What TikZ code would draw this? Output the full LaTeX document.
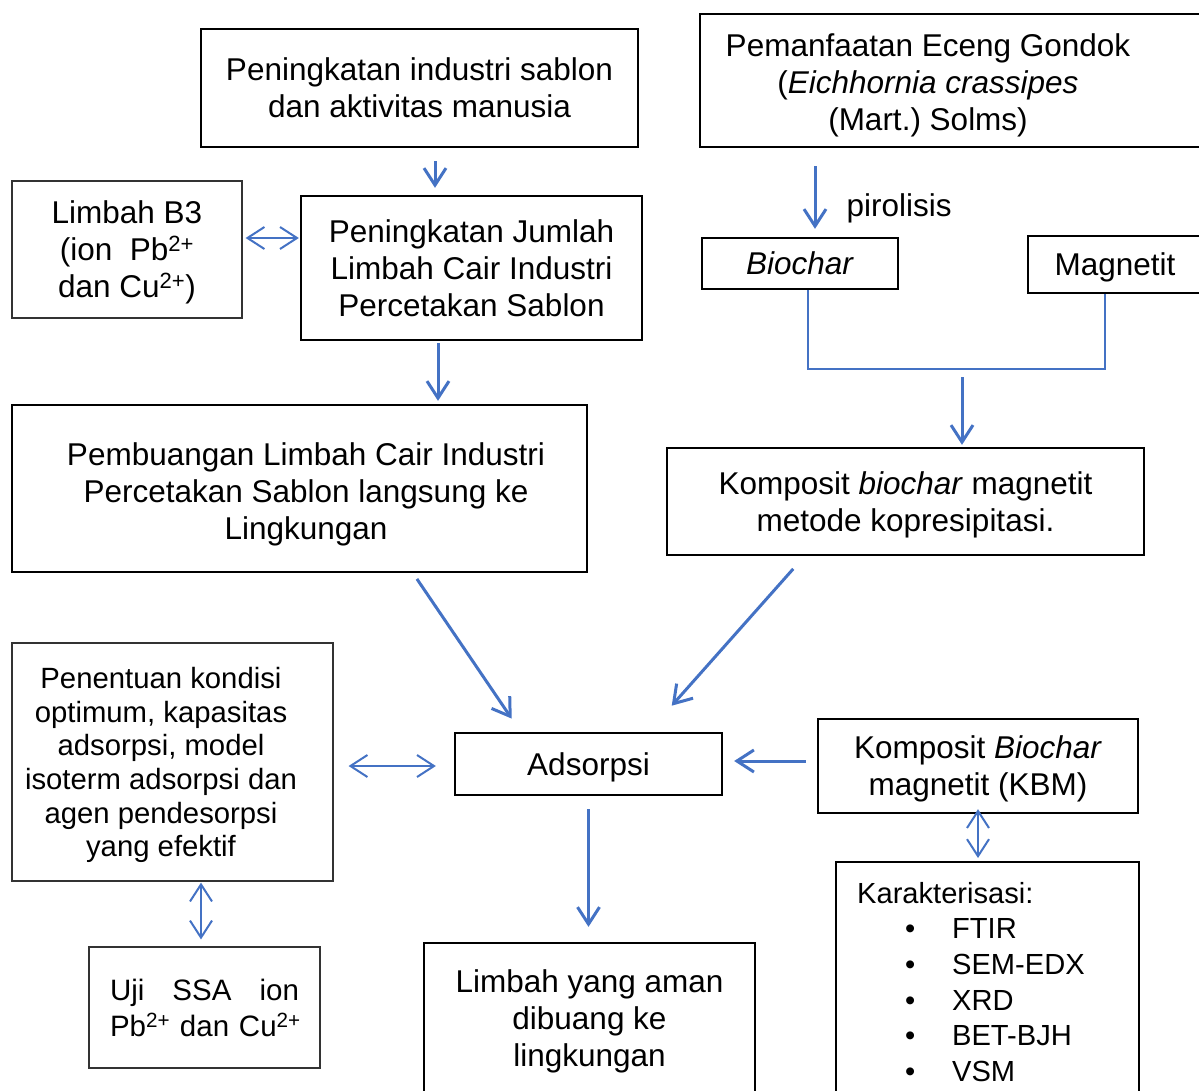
\documentclass[tikz,border=0pt]{standalone}
\usepackage{fontspec}
\setmainfont{Liberation Sans}
\usepackage{tikz}
\usetikzlibrary{arrows.meta,positioning}
\definecolor{flowblue}{RGB}{68,114,196}

\begin{document}
\begin{tikzpicture}[x=1pt,y=-1pt,
    font=\fontsize{31.5}{37}\selectfont,
    >={Straight Barb[length=17pt,width=22pt]},
    box/.style={draw,line width=2.3pt,align=center,inner sep=0pt,text depth=0pt},
    listbox/.style={draw,line width=2.3pt,align=left,inner sep=0pt},
    thinbox/.style={draw=black!80,line width=1.2pt,align=center,inner sep=0pt},
    boxtext/.style={align=center,inner sep=0pt,text depth=0pt},
    flow/.style={->,flowblue,line width=3pt},
    twoway/.style={<->,flowblue,line width=2pt},
    mergeline/.style={flowblue,line width=1.2pt}]
    \useasboundingbox (0,0) rectangle (1199,1090);
    \clip (0,0) rectangle (1199,1090);

    % left column
    \node[box,minimum width=437pt,minimum height=118pt] (A) at (419.5,88) {Peningkatan industri sablon\\dan aktivitas manusia};
    \node[thinbox,text depth=0pt,minimum width=230pt,minimum height=137pt] (C) at (127,249.5) {Limbah B3\\(ion~ Pb\textsuperscript{2+}\\dan Cu\textsuperscript{2+})};
    \node[box,minimum width=341pt,minimum height=144pt] (D) at (471.5,268) {Peningkatan Jumlah\\Limbah Cair Industri\\Percetakan Sablon};
    \node[box,minimum width=575pt,minimum height=167pt] (E) at (299.5,488.5) {};
    \node[boxtext] (Etext) at (306,491.5) {Pembuangan Limbah Cair Industri\\Percetakan Sablon langsung ke\\Lingkungan};

    % right column
    \node[box,minimum width=515pt,minimum height=133pt] (B) at (957.5,80.5) {};
    \node[boxtext] (Btext) at (928,82) {Pemanfaatan Eceng Gondok\\(\textit{Eichhornia crassipes}\\(Mart.)\ Solms)};
    \node[box,minimum width=196pt,minimum height=51pt] (bio) at (800,263.5) {\textit{Biochar}};
    \node[box,minimum width=174pt,minimum height=57pt] (mag) at (1115,264.5) {Magnetit};
    \node[anchor=west] (pir) at (843,208) {pirolisis};
    \coordinate (merge) at (962,369);
    \node[box,minimum width=477pt,minimum height=107pt] (F) at (905.5,501.5) {Komposit \textit{biochar} magnetit\\metode kopresipitasi.};

    % bottom part
    \node[thinbox,minimum width=321pt,minimum height=238pt] (G) at (172.5,762) {};
    \node[boxtext,font=\fontsize{29.3}{33.6}\selectfont] (Gtext) at (161,762) {Penentuan kondisi\\optimum, kapasitas\\adsorpsi, model\\isoterm adsorpsi dan\\agen pendesorpsi\\yang efektif};
    \node[box,minimum width=267pt,minimum height=62pt] (H) at (588.5,764) {Adsorpsi};
    \node[box,minimum width=320pt,minimum height=94pt] (I) at (978,766) {Komposit \textit{Biochar}\\magnetit (KBM)};
    \node[listbox,anchor=north west,text width=261pt,inner xsep=21pt,inner ysep=20pt,
          font=\fontsize{29.1}{35.6}\selectfont] (J) at (835,861)
        {Karakterisasi:\\
         \hspace*{48pt}\makebox[47pt][l]{\textbullet}FTIR\\
         \hspace*{48pt}\makebox[47pt][l]{\textbullet}SEM-EDX\\
         \hspace*{48pt}\makebox[47pt][l]{\textbullet}XRD\\
         \hspace*{48pt}\makebox[47pt][l]{\textbullet}BET-BJH\\
         \hspace*{48pt}\makebox[47pt][l]{\textbullet}VSM};
    \node[box,minimum width=331pt,minimum height=150pt] (K) at (589.5,1018) {Limbah yang aman\\dibuang ke\\lingkungan};
    \node[thinbox,minimum width=231pt,minimum height=121pt,align=left,text width=189pt,
          font=\fontsize{29.5}{36}\selectfont] (L) at (204.5,1007.5)
        {\makebox[189pt][l]{Uji\hfill SSA\hfill ion}\\\mbox{Pb\textsuperscript{2+} dan Cu\textsuperscript{2+}}};

    % arrows
    \draw[flow,shorten <=13pt,shorten >=7pt] ([xshift=15.5pt]A.south) -- ([xshift=15.5pt]A.south |- D.north);
    \draw[twoway,shorten <=3pt,shorten >=1pt] ([yshift=11.5pt]C.east) -- ([yshift=11.5pt]C.east -| D.west);
    \draw[flow,shorten <=2pt,shorten >=3pt] ([xshift=-33.5pt]D.south) -- ([xshift=-33.5pt]D.south |- E.north);
    \draw[flow,shorten <=18pt,shorten >=8pt] ([xshift=15pt]bio.north |- B.south) -- ([xshift=15pt]bio.north);
    \draw[mergeline] ([xshift=8pt]bio.south) |- (merge) -| ([xshift=-10pt]mag.south);
    \draw[flow,shorten <=8pt,shorten >=2pt] (merge) -- (merge |- F.north);
    \draw[flow,shorten <=7pt,shorten >=16pt] ([xshift=113.5pt]E.south) -- ([xshift=-67.8pt]H.north);
    \draw[flow,shorten <=17pt,shorten >=35pt] ([xshift=-101pt]F.south) -- ([xshift=60pt]H.north);
    \draw[twoway,shorten <=15pt,shorten >=18pt] ([yshift=-2pt]H.west -| G.east) -- ([yshift=-2pt]H.west);
    \draw[flow,shorten <=11pt,shorten >=11pt] ([yshift=5pt]I.west) -- ([yshift=5pt]I.west -| H.east);
    \draw[twoway,shorten <=-5pt,shorten >=3pt] (I.south) -- (I.south |- J.north);
    \draw[flow,shorten <=13pt,shorten >=15pt] (H.south) -- (H.south |- K.north);
    \draw[twoway,shorten <=1pt,shorten >=7pt] ([xshift=28.5pt]G.south) -- ([xshift=28.5pt]G.south |- L.north);
\end{tikzpicture}
\end{document}
